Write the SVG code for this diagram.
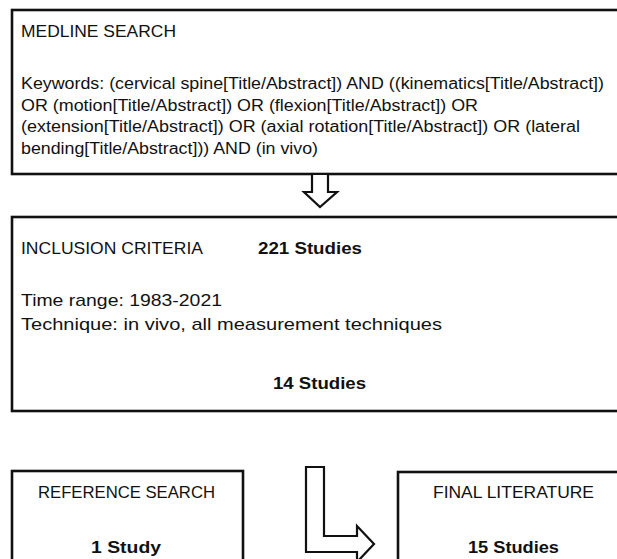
<svg xmlns="http://www.w3.org/2000/svg" width="617" height="559" viewBox="0 0 617 559">
<style>
.box{fill:#fff;stroke:#111;stroke-width:2.6}
.arr{fill:#fff;stroke:#111;stroke-width:2.2;stroke-linejoin:miter}
text{font-family:"Liberation Sans",Arial,sans-serif;font-size:17px;fill:#111}
.kw{font-size:16px}
.b{font-weight:bold}
</style>
<rect width="617" height="559" fill="#fff"/>
<g id="medline">
<rect class="box" x="12" y="10" width="640" height="164"/>
<text x="21" y="37" textLength="155" lengthAdjust="spacingAndGlyphs">MEDLINE SEARCH</text>
<text class="kw" x="21" y="89" textLength="583" lengthAdjust="spacingAndGlyphs">Keywords: (cervical spine[Title/Abstract])  AND ((kinematics[Title/Abstract])</text>
<text class="kw" x="21" y="110.5" textLength="457" lengthAdjust="spacingAndGlyphs">OR (motion[Title/Abstract])  OR (flexion[Title/Abstract])  OR</text>
<text class="kw" x="21" y="132" textLength="559" lengthAdjust="spacingAndGlyphs">(extension[Title/Abstract])  OR (axial rotation[Title/Abstract])  OR (lateral</text>
<text class="kw" x="21" y="153.5" textLength="297" lengthAdjust="spacingAndGlyphs">bending[Title/Abstract]))  AND (in vivo)</text>
</g>
<g id="inclusion">
<rect class="box" x="12" y="217" width="640" height="194"/>
<text x="21" y="254" textLength="182" lengthAdjust="spacingAndGlyphs">INCLUSION CRITERIA</text>
<text class="b" x="258" y="254" textLength="104" lengthAdjust="spacingAndGlyphs">221 Studies</text>
<text x="21" y="306" textLength="201" lengthAdjust="spacingAndGlyphs">Time range: 1983-2021</text>
<text x="21" y="330" textLength="421" lengthAdjust="spacingAndGlyphs">Technique: in vivo, all measurement techniques</text>
<text class="b" x="273" y="389" textLength="93" lengthAdjust="spacingAndGlyphs">14 Studies</text>
</g>
<g id="reference">
<rect class="box" x="12" y="471" width="231" height="120"/>
<text x="38" y="498" textLength="177" lengthAdjust="spacingAndGlyphs">REFERENCE SEARCH</text>
<text class="b" x="91" y="553" textLength="70" lengthAdjust="spacingAndGlyphs">1 Study</text>
</g>
<g id="final">
<rect class="box" x="398" y="472" width="260" height="120"/>
<text x="433" y="498" textLength="161" lengthAdjust="spacingAndGlyphs">FINAL LITERATURE</text>
<text class="b" x="468" y="553" textLength="91" lengthAdjust="spacingAndGlyphs">15 Studies</text>
</g>
<g id="connectors">
<polyline class="arr" points="312,175 312,192 304,192 320,207 337,192 328,192 328,175"/>
<polygon class="arr" points="306,467 324,467 324,536 357,536 357,526 374,544 357,562 357,552 306,552"/>
</g>
</svg>
